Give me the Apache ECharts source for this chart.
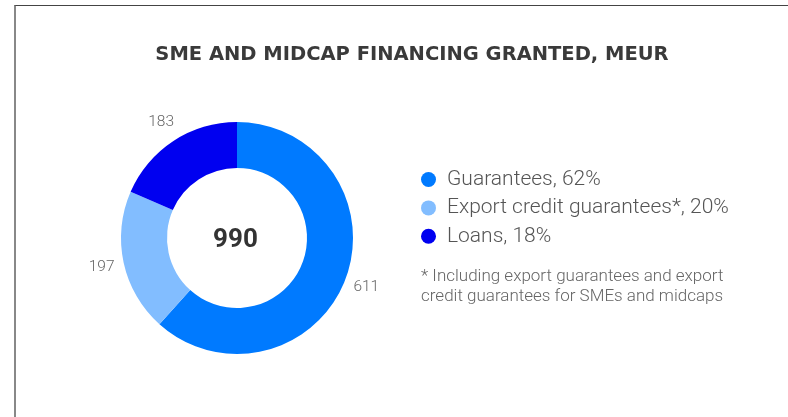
<!DOCTYPE html>
<html>
<head>
<meta charset="utf-8">
<script src="https://cdn.jsdelivr.net/npm/echarts@6/dist/echarts.min.js"></script>
<style>
  html, body { margin: 0; padding: 0; background: #fff; }
  #frame { position: absolute; left: 14px; top: 5px; width: 780px; height: 420px;
           border-left: 2px solid #888; border-top: 1px solid #444; }
  #chart { position: absolute; left: 0; top: 0; width: 788px; height: 417px; }
</style>
</head>
<body>
<div id="frame"></div>
<div id="chart"></div>
<script>
// data
var categories = ["Guarantees", "Export credit guarantees*", "Loans"];
var values = [611, 197, 183];
var shares = [62, 20, 18];
var colors = ["#007AFF", "#82BDFF", "#0000F0"];
var total = 990;
var footnote = "* Including export guarantees and export\ncredit guarantees for SMEs and midcaps";

var chart = echarts.init(document.getElementById("chart"));

var data = categories.map(function (c, i) {
  return { name: c, value: values[i], itemStyle: { color: colors[i] } };
});
var legendText = {};
categories.forEach(function (c, i) { legendText[c] = c + ", " + shares[i] + "%"; });

var opts = {
  animation: false,
  title: [{
    text: "SME AND MIDCAP FINANCING GRANTED, MEUR",
    left: 407, top: 40, textAlign: "center",
    textStyle: { fontFamily: "DejaVu Sans", fontWeight: "bold", fontSize: 19.5, color: "#3a3a3a" }
  }, {
    text: String(total),
    left: 230.5, top: 222, textAlign: "center",
    textStyle: { fontFamily: "Roboto", fontWeight: "bold", fontSize: 26, color: "#333" }
  }, {
    text: footnote,
    left: 416, top: 261,
    textStyle: { fontFamily: "Roboto", fontWeight: 300, fontSize: 17, lineHeight: 20.5, color: "#666" }
  }],
  legend: {
    orient: "vertical",
    left: 416, top: 164,
    icon: "circle",
    itemWidth: 15, itemHeight: 15,
    itemGap: 7.4,
    selectedMode: false,
    data: categories,
    formatter: function (n) { return legendText[n]; },
    textStyle: { fontFamily: "Roboto", fontWeight: 300, fontSize: 21, lineHeight: 20, color: "#555", padding: [0, 0, 0, 6] }
  },
  series: [{
    type: "pie",
    center: [237, 238],
    radius: [70, 116],
    startAngle: 90,
    clockwise: true,
    label: { show: false },
    labelLine: { show: false },
    data: data
  }, {
    // transparent ring used only to place value labels
    type: "pie",
    center: [237, 238],
    radius: [116, 155],
    startAngle: 90,
    clockwise: true,
    silent: true,
    itemStyle: { color: "rgba(0,0,0,0)" },
    label: {
      show: true, position: "inside",
      fontFamily: "Roboto", fontWeight: 300, fontSize: 15.5, color: "#666",
      formatter: function (p) { return p.value; }
    },
    labelLine: { show: false },
    data: values.map(function (v, i) { return { name: categories[i] + "_lbl", value: v }; })
  }]
};
chart.setOption(opts);
</script>
</body>
</html>
